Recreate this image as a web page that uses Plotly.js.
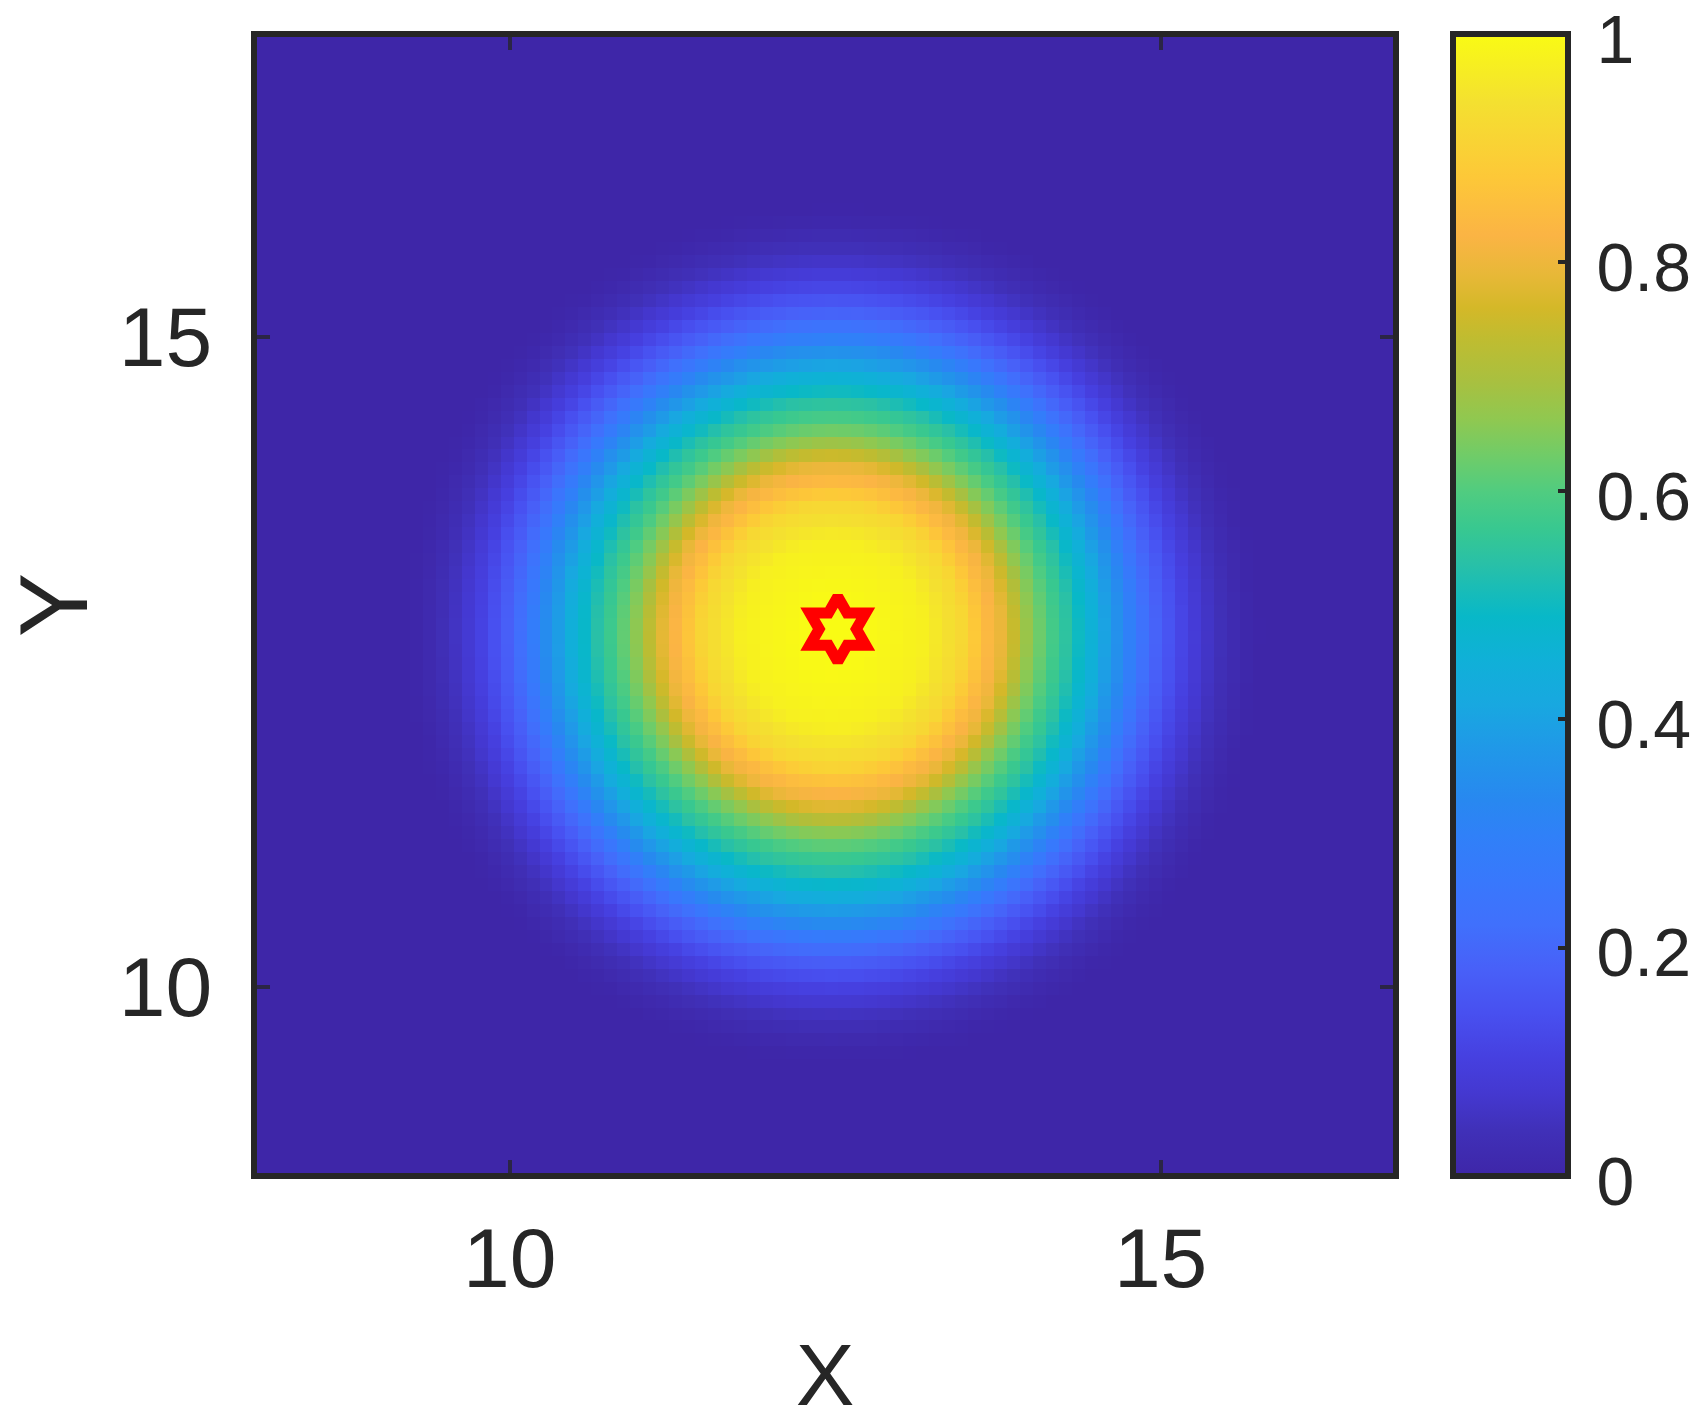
<!DOCTYPE html>
<html>
<head>
<meta charset="utf-8">
<script src="https://cdn.plot.ly/plotly-3.0.1.min.js"></script>
<style>
  html, body { margin: 0; padding: 0; background: #ffffff; }
  #chart { width: 1704px; height: 1424px; }
</style>
</head>
<body>
<div id="chart"></div>
<script>
// ---- data ----
// radial profile of the field (distance from the spot centre, in axis units)
const profileRadius = [0.0, 0.1, 0.2, 0.3, 0.4, 0.5, 0.6, 0.7, 0.8, 0.9,
                       1.0, 1.1, 1.2, 1.3, 1.4, 1.5, 1.6, 1.7, 1.8, 1.9,
                       2.0, 2.1, 2.2, 2.3, 2.4, 2.5, 2.6, 2.7, 2.8, 2.9,
                       3.0, 3.1, 3.2, 3.3];
const profileValue  = [1.000, 1.000, 0.998, 0.995, 0.990, 0.985, 0.980, 0.975, 0.955, 0.935,
                       0.915, 0.870, 0.830, 0.790, 0.735, 0.665, 0.620, 0.575, 0.540, 0.490,
                       0.450, 0.390, 0.345, 0.285, 0.220, 0.180, 0.145, 0.110, 0.080, 0.055,
                       0.035, 0.018, 0.006, 0.000];
const spotCentre = [12.485, 12.705];        // centre of the rings (x, y)
const starPoint  = {x: [12.52], y: [12.75]}; // red hexagram marker

// grid of the image cells
const gridX = {start: 8.036, step: 0.0997, count: 88};
const gridY = {start: 8.543, step: 0.0998, count: 88};

// axis / colour-bar ticks
const xTickVals = [10, 15];
const xTickText = ['10', '15'];
const yTickVals = [10, 15];
const yTickText = ['10', '15'];
const cbTickVals = [0, 0.2, 0.4, 0.6, 0.8, 1];
const cbTickText = ['0', '0.2', '0.4', '0.6', '0.8', '1'];
const xRange = [8.059, 16.785];
const yRange = [8.566, 17.304];

// parula-like colour scale sampled from the reference colour bar
const parula = [
  [0.000, '#3e26a8'], [0.040, '#4030b8'], [0.072, '#4438d0'], [0.104, '#4640e0'],
  [0.143, '#4850f0'], [0.181, '#4860f8'], [0.220, '#4070fc'], [0.259, '#3878fc'],
  [0.297, '#3080f8'], [0.329, '#2888f0'], [0.374, '#2098e8'], [0.413, '#18a8e0'],
  [0.451, '#10b0d8'], [0.490, '#08b8c8'], [0.535, '#28c0a8'], [0.567, '#38c890'],
  [0.599, '#50cc80'], [0.631, '#70cc68'], [0.663, '#90c850'], [0.695, '#a8c040'],
  [0.734, '#c0bc30'], [0.760, '#d4b828'], [0.790, '#e8b838'], [0.824, '#fbb444'],
  [0.875, '#fdc838'], [0.940, '#f4e030'], [1.000, '#f9fb14']
];

// ---- build the cell table from the radial profile ----
function profileAt(r) {
  const n = profileRadius.length;
  if (r >= profileRadius[n - 1]) return profileValue[n - 1];
  let k = 0;
  while (k < n - 2 && r > profileRadius[k + 1]) k++;
  const t = (r - profileRadius[k]) / (profileRadius[k + 1] - profileRadius[k]);
  return profileValue[k] + (profileValue[k + 1] - profileValue[k]) * t;
}
const xs = [], ys = [];
for (let i = 0; i < gridX.count; i++) xs.push(gridX.start + gridX.step * (i + 0.5));
for (let j = 0; j < gridY.count; j++) ys.push(gridY.start + gridY.step * (j + 0.5));
const z = ys.map(function (yv) {
  return xs.map(function (xv) {
    return profileAt(Math.hypot(xv - spotCentre[0], yv - spotCentre[1]));
  });
});

const FONT = 'Liberation Sans, Arial, Helvetica, sans-serif';
const INK = '#262626';
const GAP = '\u2006';

const heat = {
  type: 'heatmap',
  x: xs, y: ys, z: z,
  zmin: 0, zmax: 1,
  zsmooth: false,
  colorscale: parula,
  hoverinfo: 'skip',
  colorbar: {
    thicknessmode: 'pixels', thickness: 115,
    lenmode: 'pixels', len: 1142,
    x: 1.0532, xanchor: 'left', xpad: 0,
    y: 0.5, yanchor: 'middle', ypad: 0,
    outlinewidth: 6, outlinecolor: INK,
    ticks: 'inside', ticklen: 13, tickwidth: 4, tickcolor: INK,
    tickmode: 'array', tickvals: cbTickVals,
    ticktext: cbTickText.map(function (s) { return GAP + s; }),
    ticklabeloverflow: 'allow',
    tickfont: {family: FONT, size: 68, color: INK}
  }
};

const star = {
  type: 'scatter', mode: 'markers',
  x: starPoint.x, y: starPoint.y,
  marker: {symbol: 'hexagram-open', size: 49, color: '#ff0000',
           line: {color: '#ff0000', width: 11}},
  hoverinfo: 'skip', showlegend: false
};

const axisCommon = {
  showgrid: false, zeroline: false,
  showline: true, linewidth: 6, linecolor: INK, mirror: 'allticks',
  ticks: 'inside', ticklen: 13, tickwidth: 4, tickcolor: 'rgba(38,38,38,0.75)',
  tickmode: 'array',
  tickfont: {family: FONT, size: 84, color: INK}
};

const layout = {
  width: 1704, height: 1424,
  margin: {l: 257, r: 311, t: 37, b: 251, pad: 0, autoexpand: false},
  paper_bgcolor: '#ffffff', plot_bgcolor: '#ffffff',
  showlegend: false,
  xaxis: Object.assign({}, axisCommon, {
    range: xRange, tickvals: xTickVals, ticktext: xTickText,
    ticklabelstandoff: 7,
    title: {text: 'X', font: {family: FONT, size: 88, color: INK}, standoff: 57}
  }),
  yaxis: Object.assign({}, axisCommon, {
    range: yRange, tickvals: yTickVals, ticktext: yTickText,
    ticklabelstandoff: 22,
    title: {text: 'Y', font: {family: FONT, size: 96, color: INK}, standoff: 84}
  })
};

Plotly.newPlot('chart', [heat, star], layout, {displayModeBar: false, staticPlot: true})
  .then(function (gd) {
    // colour-bar labels sit a few pixels below their ticks, as in the reference
    gd.querySelectorAll('.colorbar text').forEach(function (t) {
      const tr = t.getAttribute('transform') || '';
      t.setAttribute('transform', tr + ' translate(0,5)');
    });
  });
</script>
</body>
</html>
